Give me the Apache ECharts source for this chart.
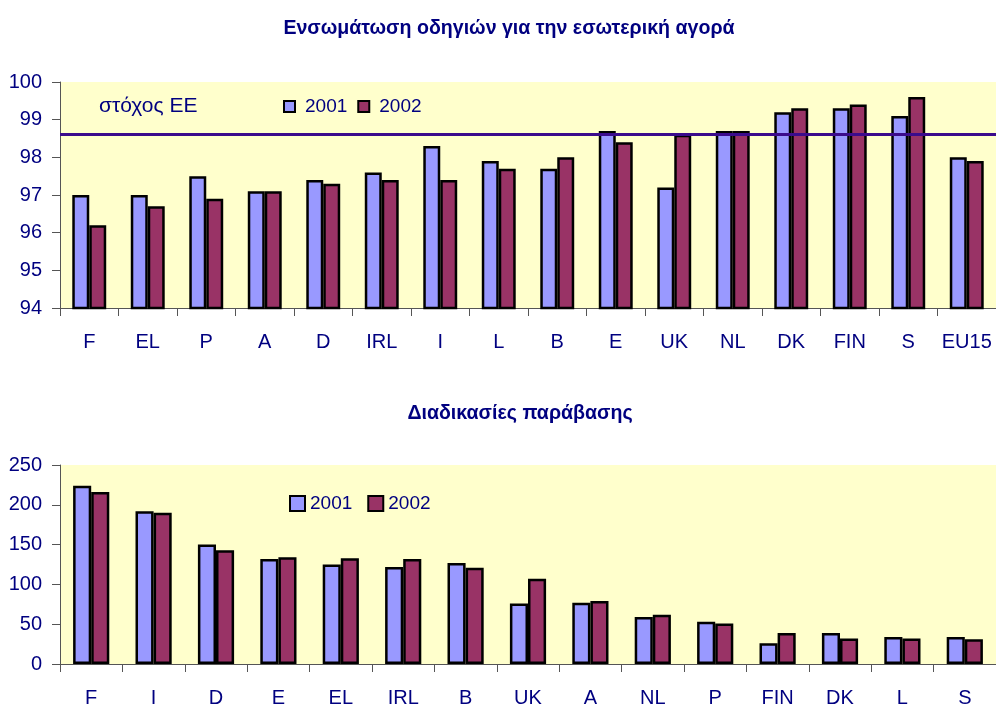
<!DOCTYPE html>
<html>
<head>
<meta charset="utf-8">
<script src="https://cdn.jsdelivr.net/npm/echarts@6/dist/echarts.min.js"></script>
<style>
  html, body { margin: 0; padding: 0; background: #fff; }
  #main { width: 996px; height: 709px; }
</style>
</head>
<body>
<div id="main"></div>
<script>
// top chart: transposition of internal market directives (%)
var catsTop = ["F","EL","P","A","D","IRL","I","L","B","E","UK","NL","DK","FIN","S","EU15"];
var top2001 = [97.0, 97.0, 97.5, 97.1, 97.4, 97.6, 98.3, 97.9, 97.7, 98.7, 97.2, 98.7, 99.2, 99.3, 99.1, 98.0];
var top2002 = [96.2, 96.7, 96.9, 97.1, 97.3, 97.4, 97.4, 97.7, 98.0, 98.4, 98.6, 98.7, 99.3, 99.4, 99.6, 97.9];
var target = 98.6;

// bottom chart: infringement procedures
var catsBot = ["F","I","D","E","EL","IRL","B","UK","A","NL","P","FIN","DK","L","S"];
var bot2001 = [224, 192, 150, 132, 125, 122, 127, 76, 77, 59, 53, 26, 39, 34, 34];
var bot2002 = [216, 190, 143, 134, 133, 132, 121, 107, 79, 62, 51, 39, 32, 32, 31];

var navy = '#000080';
var c2001 = '#9999FF';
var c2002 = '#993366';
var font = 'Liberation Sans, Arial, sans-serif';

var myChart = echarts.init(document.getElementById('main'));

function xAx(idx, data) {
    return {
        type: 'category', gridIndex: idx, data: data,
        axisLine: { lineStyle: { color: '#555', width: 1 } },
        axisTick: { show: true, length: 8, lineStyle: { color: '#555' } },
        axisLabel: { interval: 0, color: navy, fontSize: 20, fontFamily: font, margin: 24 }
    };
}
function yAx(idx, min, max, step) {
    return {
        type: 'value', gridIndex: idx, min: min, max: max, interval: step,
        axisLine: { show: true, lineStyle: { color: '#555' } },
        axisTick: { show: true, length: 8, lineStyle: { color: '#555' } },
        splitLine: { show: false },
        axisLabel: { color: navy, fontSize: 20, fontFamily: font, margin: 18 }
    };
}
function bar(name, idx, data, color) {
    return {
        name: name, type: 'bar', xAxisIndex: idx, yAxisIndex: idx, data: data,
        barGap: '0%', barCategoryGap: '42%',
        itemStyle: { color: color, borderColor: '#000', borderWidth: 2.5 }
    };
}

var s1 = bar('2001', 0, top2001, c2001);
s1.markLine = {
    silent: true, symbol: 'none',
    label: { show: false },
    lineStyle: { color: '#3B0B8C', width: 3, type: 'solid' },
    data: [{ yAxis: target }]
};

var option = {
    animation: false,
    textStyle: { fontFamily: font },
    title: [
        { text: 'Ενσωμάτωση οδηγιών για την εσωτερική αγορά', left: 504, top: 14, textAlign: 'center',
          textStyle: { color: navy, fontSize: 19.6, fontWeight: 'bold', fontFamily: font } },
        { text: 'Διαδικασίες παράβασης', left: 515, top: 399, textAlign: 'center',
          textStyle: { color: navy, fontSize: 19.6, fontWeight: 'bold', fontFamily: font } }
    ],
    legend: [
        { data: ['2001', '2002'], left: 278, top: 92, itemWidth: 11, itemHeight: 11, itemGap: 10,
          icon: 'rect', textStyle: { color: navy, fontSize: 19, fontFamily: font, padding: [0, 0, 0, 5] } },
        { data: ['2001', '2002'], left: 284, top: 489, itemWidth: 15, itemHeight: 15, itemGap: 15,
          icon: 'rect', textStyle: { color: navy, fontSize: 19, fontFamily: font, padding: [0, 0, 0, 0] } }
    ],
    grid: [
        { left: 60, right: 0, top: 82, height: 226, show: true, backgroundColor: '#FFFFCC', borderWidth: 0 },
        { left: 60, right: 0, top: 465, height: 199, show: true, backgroundColor: '#FFFFCC', borderWidth: 0 }
    ],
    xAxis: [xAx(0, catsTop), xAx(1, catsBot)],
    yAxis: [yAx(0, 94, 100, 1), yAx(1, 0, 250, 50)],
    graphic: [
        { type: 'text', left: 99, top: 96, style: { text: 'στόχος ΕΕ', fill: navy, font: '21px ' + font } }
    ],
    series: [
        s1,
        bar('2002', 0, top2002, c2002),
        bar('2001', 1, bot2001, c2001),
        bar('2002', 1, bot2002, c2002)
    ]
};

myChart.setOption(option);
</script>
</body>
</html>
